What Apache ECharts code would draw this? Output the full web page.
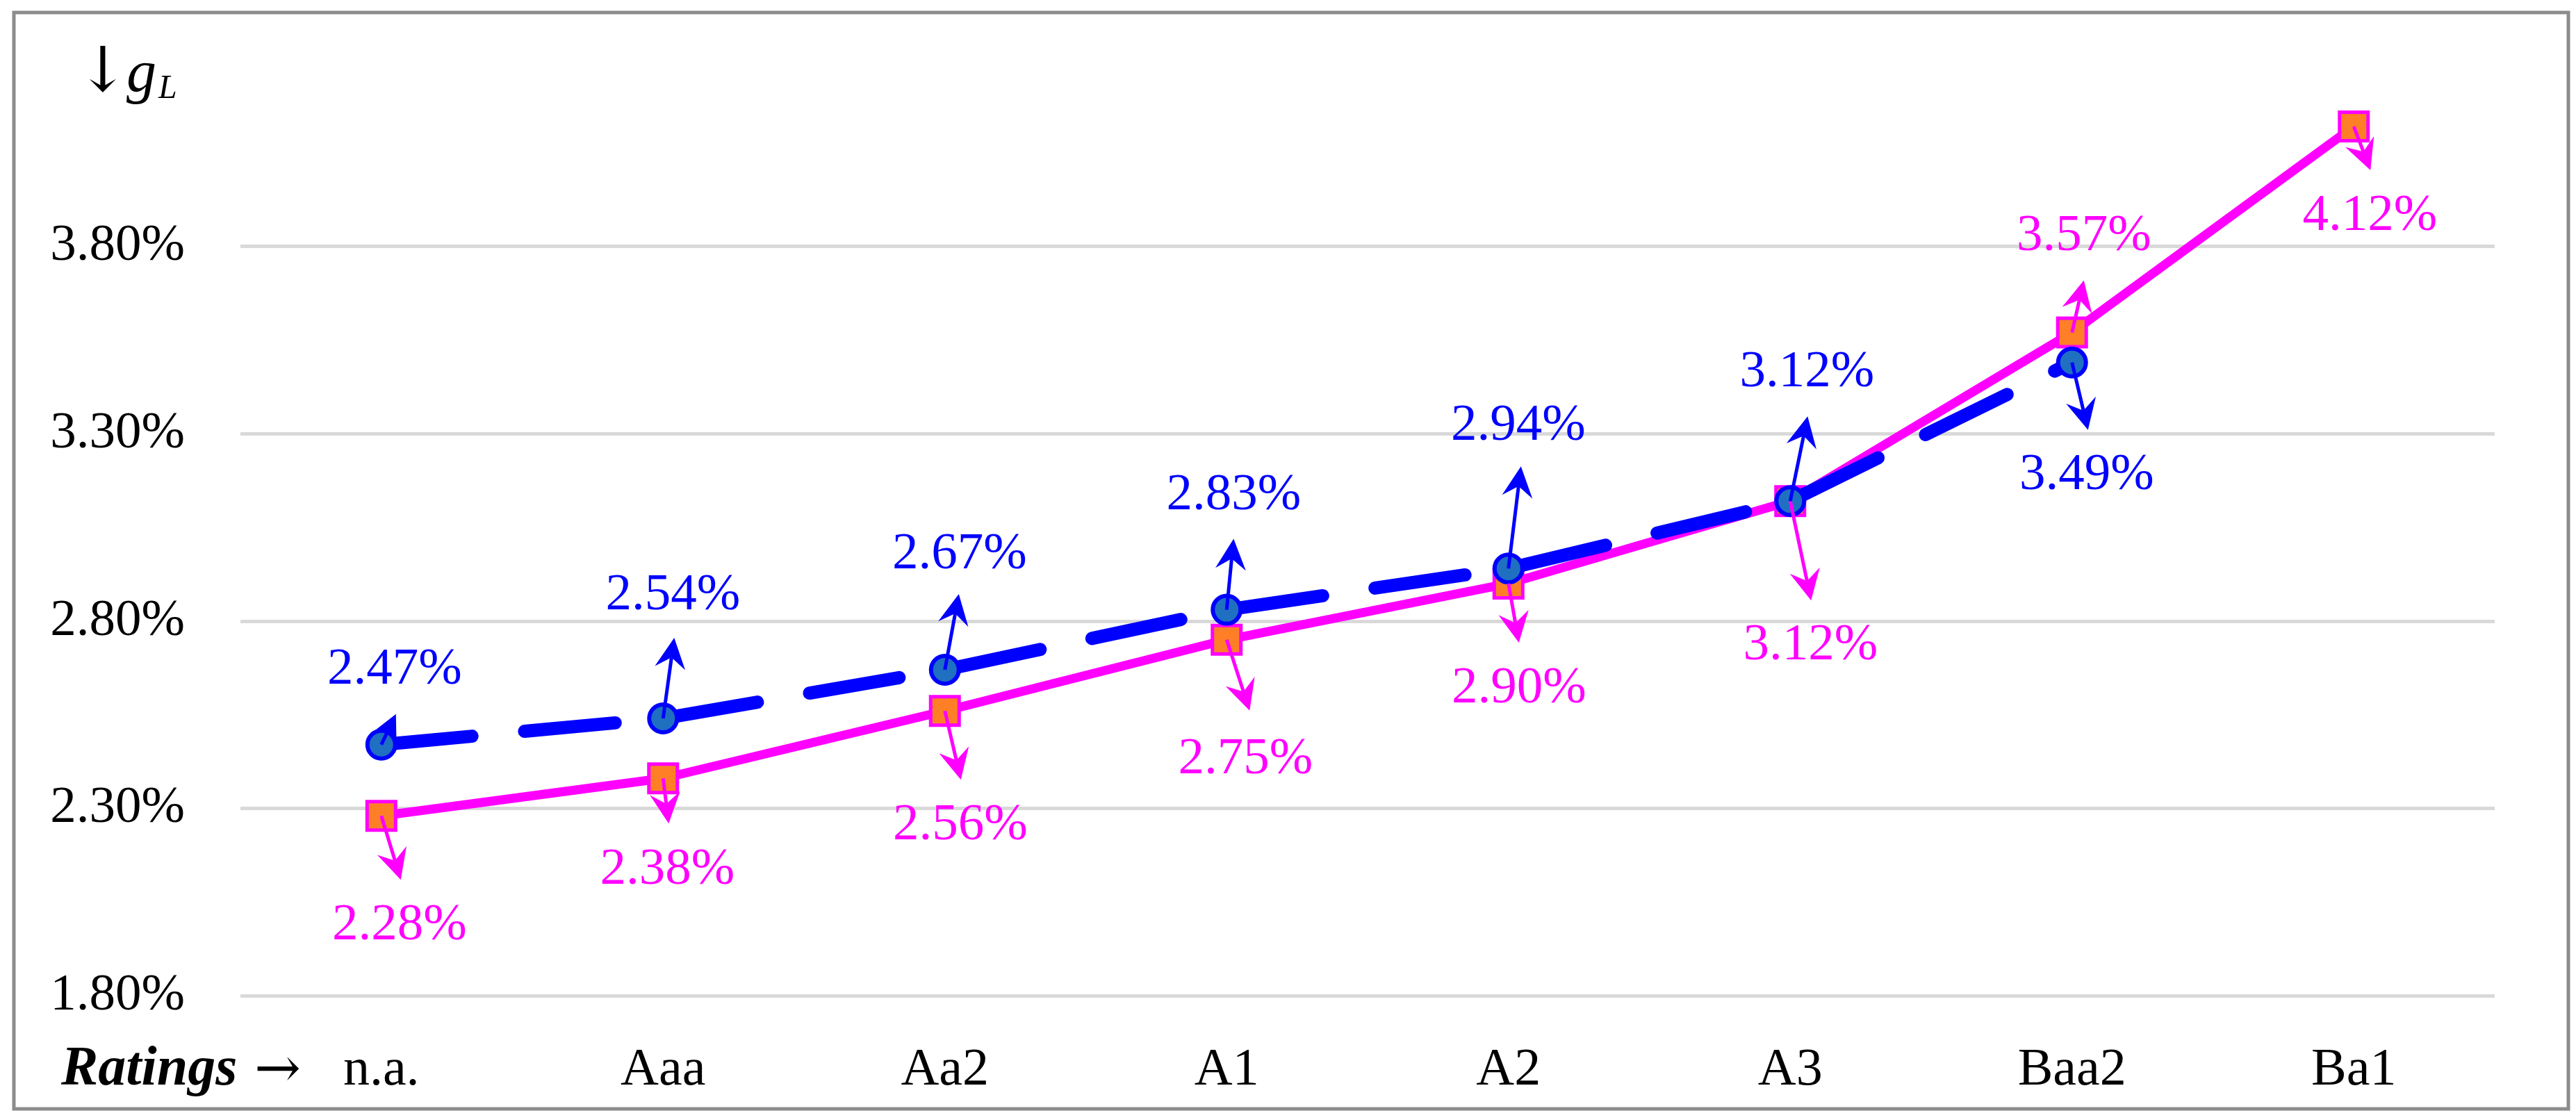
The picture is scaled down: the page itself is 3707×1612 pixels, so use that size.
<!DOCTYPE html>
<html><head><meta charset="utf-8">
<script src="https://cdn.jsdelivr.net/npm/echarts@6/dist/echarts.min.js"></script>
<style>html,body{margin:0;padding:0;background:#fff}#c{width:3707px;height:1612px}</style>
</head><body><div id="c"></div>
<script>
// ---- data ----
const categories = ['n.a.', 'Aaa', 'Aa2', 'A1', 'A2', 'A3', 'Baa2', 'Ba1'];
const blueValues = [2.47, 2.54, 2.67, 2.83, 2.94, 3.12, 3.49, null];
const magentaValues = [2.28, 2.38, 2.56, 2.75, 2.90, 3.12, 3.57, 4.12];
const yMin = 1.8, yMax = 4.3, yStep = 0.5;

// ---- annotation layout (pixel offsets from each point) ----
const blueLabelOffsets = [[19,-107],[14,-177],[21,-166],[10,-164],[14,-205],[24,-185],[21,163]];
const magentaLabelOffsets = [[26,158],[6,132],[22,165],[27,173],[15,151],[29,208],[17,-138],[23,129]];
const blueArrowVecs = [[21,-44],[16,-116],[20,-109],[10,-102],[18,-147],[25,-122],[23,97]];
const magentaArrowVecs = [[28,92],[8,65],[23,99],[33,102],[15,85],[30,143],[17,-75],[24,63]];

const FONT = "'Liberation Serif', 'DejaVu Serif', serif";
const BLUE = '#0000FF', MAG = '#FF00FF';

function pct(v) { return v.toFixed(2) + '%'; }

function lineData(values, offsets) {
  return values.map((v, i) => v == null ? null : ({
    value: v,
    label: { offset: offsets[i] }
  }));
}

function arrowSeries(name, values, vecs, color) {
  const data = [];
  values.forEach((v, i) => { if (v != null) data.push([i, v]); });
  return {
    name, type: 'custom', z: 10, silent: true, animation: false,
    data,
    renderItem(params, api) {
      const i = api.value(0), v = api.value(1);
      const p = api.coord([i, v]);
      const vec = vecs[i];
      const len = Math.hypot(vec[0], vec[1]);
      const ux = vec[0] / len, uy = vec[1] / len;
      const px = -uy, py = ux;
      const tip = [p[0] + vec[0], p[1] + vec[1]];
      const H = Math.min(44, len * 0.85), W = H * 0.5, N = H * 0.35;
      const back = [tip[0] - ux * H, tip[1] - uy * H];
      const notch = [tip[0] - ux * (H - N), tip[1] - uy * (H - N)];
      return {
        type: 'group',
        children: [
          { type: 'line', shape: { x1: p[0], y1: p[1], x2: notch[0], y2: notch[1] },
            style: { stroke: color, lineWidth: 5 } },
          { type: 'polygon', shape: { points: [tip, [back[0] + px * W, back[1] + py * W], notch, [back[0] - px * W, back[1] - py * W]] },
            style: { fill: color } }
        ]
      };
    }
  };
}

const chart = echarts.init(document.getElementById('c'));
chart.setOption({
  animation: false,
  backgroundColor: '#fff',
  grid: { left: 346, right: 117, top: 85, bottom: 179, containLabel: false },
  xAxis: {
    type: 'category', data: categories, boundaryGap: true,
    axisLine: { show: false }, axisTick: { show: false },
    axisLabel: { color: '#000', fontFamily: FONT, fontSize: 76, margin: 70 }
  },
  yAxis: {
    type: 'value', min: yMin, max: yMax, interval: yStep,
    axisLine: { show: false }, axisTick: { show: false },
    axisLabel: { color: '#000', fontFamily: FONT, fontSize: 75, margin: 80, formatter: pct, showMaxLabel: false },
    splitLine: { show: true, showMaxLine: false, lineStyle: { color: '#D9D9D9', width: 5 } }
  },
  series: [
    {
      name: 'magenta', type: 'line', z: 3,
      data: lineData(magentaValues, magentaLabelOffsets),
      symbol: 'rect', symbolSize: 41,
      itemStyle: { color: '#FF7F27', borderColor: MAG, borderWidth: 5 },
      lineStyle: { color: MAG, width: 13 },
      label: { show: true, position: 'inside', color: MAG, fontFamily: FONT, fontSize: 75,
               textBorderWidth: 0, formatter: p => pct(p.value) }
    },
    {
      name: 'blue', type: 'line', z: 4,
      data: lineData(blueValues, blueLabelOffsets),
      symbol: 'circle', symbolSize: 40,
      itemStyle: { color: '#1F70C1', borderColor: BLUE, borderWidth: 6 },
      lineStyle: { color: BLUE, width: 19, type: [131, 76], cap: 'round' },
      label: { show: true, position: 'inside', color: BLUE, fontFamily: FONT, fontSize: 75,
               textBorderWidth: 0, formatter: p => pct(p.value) }
    },
    arrowSeries('magentaArrows', magentaValues, magentaArrowVecs, MAG),
    arrowSeries('blueArrows', blueValues, blueArrowVecs, BLUE)
  ],
  graphic: [
    { type: 'rect', shape: { x: 20, y: 18, width: 3676, height: 1578 },
      style: { fill: 'none', stroke: '#8C8C8C', lineWidth: 5 }, z: 100 },
    { type: 'text', x: 88, y: 1540,
      style: { text: 'Ratings', font: "italic bold 80px " + FONT, fill: '#000', verticalAlign: 'middle' } },
    { type: 'text', x: 366, y: 1543,
      style: { text: '→', font: "80px 'DejaVu Serif', serif", fill: '#000', verticalAlign: 'middle' } },
    { type: 'text', x: 148, y: 108,
      style: { text: '↓', font: "90px 'DejaVu Serif', serif", fill: '#000', align: 'center', verticalAlign: 'middle' } },
    { type: 'text', x: 182, y: 108,
      style: { text: 'g', font: "italic 86px " + FONT, fill: '#000', verticalAlign: 'middle' } },
    { type: 'text', x: 228, y: 128,
      style: { text: 'L', font: "italic 48px " + FONT, fill: '#000', verticalAlign: 'middle' } }
  ]
});
</script></body></html>
